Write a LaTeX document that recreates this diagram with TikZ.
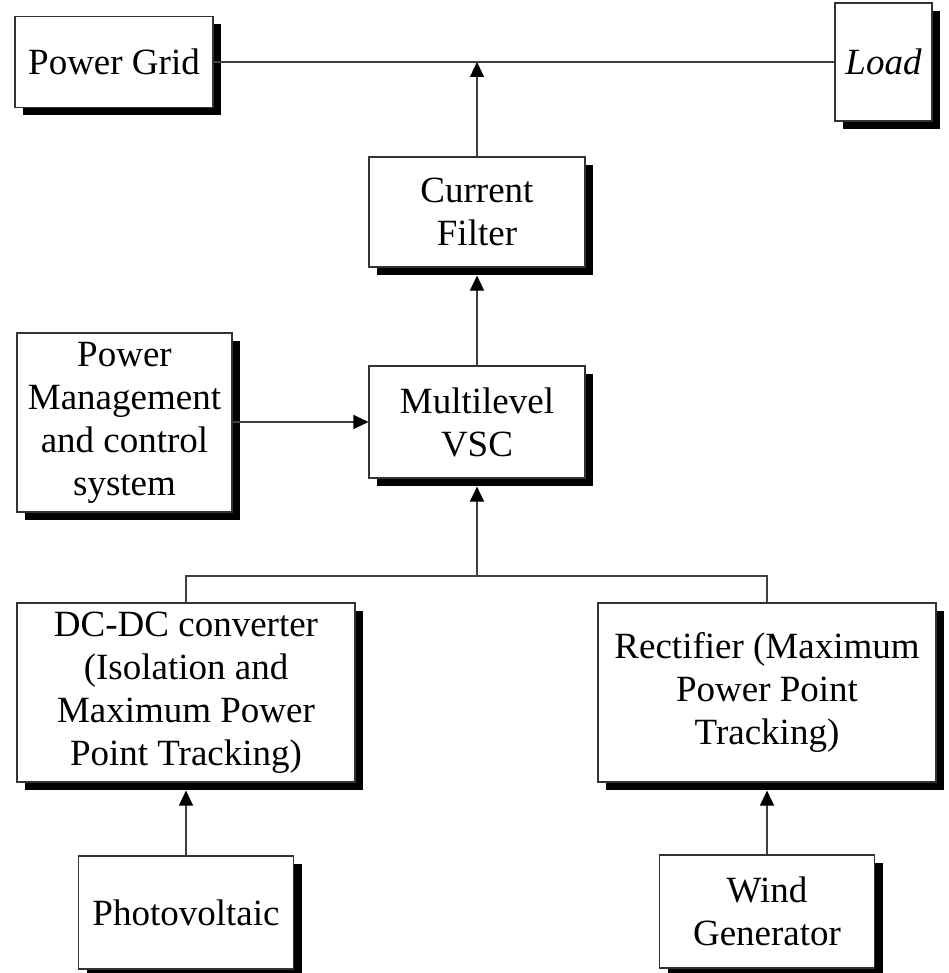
\documentclass[tikz,border=0pt]{standalone}
\usepackage{fontspec}
\setmainfont{Liberation Serif}
\usetikzlibrary{shadows,arrows.meta}
\tikzset{
  blk/.style={draw=black!80, line width=1.1pt, fill=white, align=center, inner sep=2pt,
    font=\fontsize{37}{43}\selectfont,
    drop shadow={shadow xshift=8pt, shadow yshift=-8pt, fill=black, opacity=1}},
  conn/.style={draw=black!75, line width=1.1pt},
  arr/.style={conn, -{Triangle[length=15pt,width=14pt,color=black]}},
  upshadow/.style={shorten >=8pt}
}
\begin{document}
\begin{tikzpicture}[x=1pt,y=-1pt]
\useasboundingbox (0,0) rectangle (948,973);
\node[blk, minimum width=198pt, minimum height=91pt] (grid) at (114,62) {Power Grid};
\node[blk, minimum width=97pt, minimum height=118pt] (load) at (883.5,62) {\textit{Load}};
\node[blk, minimum width=216pt, minimum height=110pt] (cf) at (477,212) {Current\\Filter};
\node[blk, minimum width=216pt, minimum height=112pt] (vsc) at (477,422) {Multilevel\\VSC};
\node[blk, minimum width=215pt, minimum height=179pt] (pm) at (124.5,422.5) {Power\\Management\\and control\\system};
\node[blk, minimum width=338pt, minimum height=179pt] (dc) at (186,692.5) {DC-DC converter\\(Isolation and\\Maximum Power\\Point Tracking)};
\node[blk, minimum width=338pt, minimum height=179pt] (rect) at (767,692.5) {Rectifier (Maximum\\Power Point\\Tracking)};
\node[blk, minimum width=215pt, minimum height=113pt] (pv) at (186,912.5) {Photovoltaic};
\node[blk, minimum width=215pt, minimum height=113pt] (wind) at (767,911.5) {Wind\\Generator};
\coordinate (bus) at (477,62);
\coordinate (jn) at (477,576);
\draw[conn] (grid.east) -- (load.west);
\draw[arr] (cf.north) -- (bus);
\draw[arr, upshadow] (vsc.north) -- (cf.south);
\draw[arr] (pm.east |- vsc.west) -- (vsc.west);
\draw[conn] (dc.north) |- (jn) -| (rect.north);
\draw[arr, upshadow] (jn) -- (vsc.south);
\draw[arr, upshadow] (pv.north) -- (dc.south);
\draw[arr, upshadow] (wind.north) -- (rect.south);
\end{tikzpicture}
\end{document}
